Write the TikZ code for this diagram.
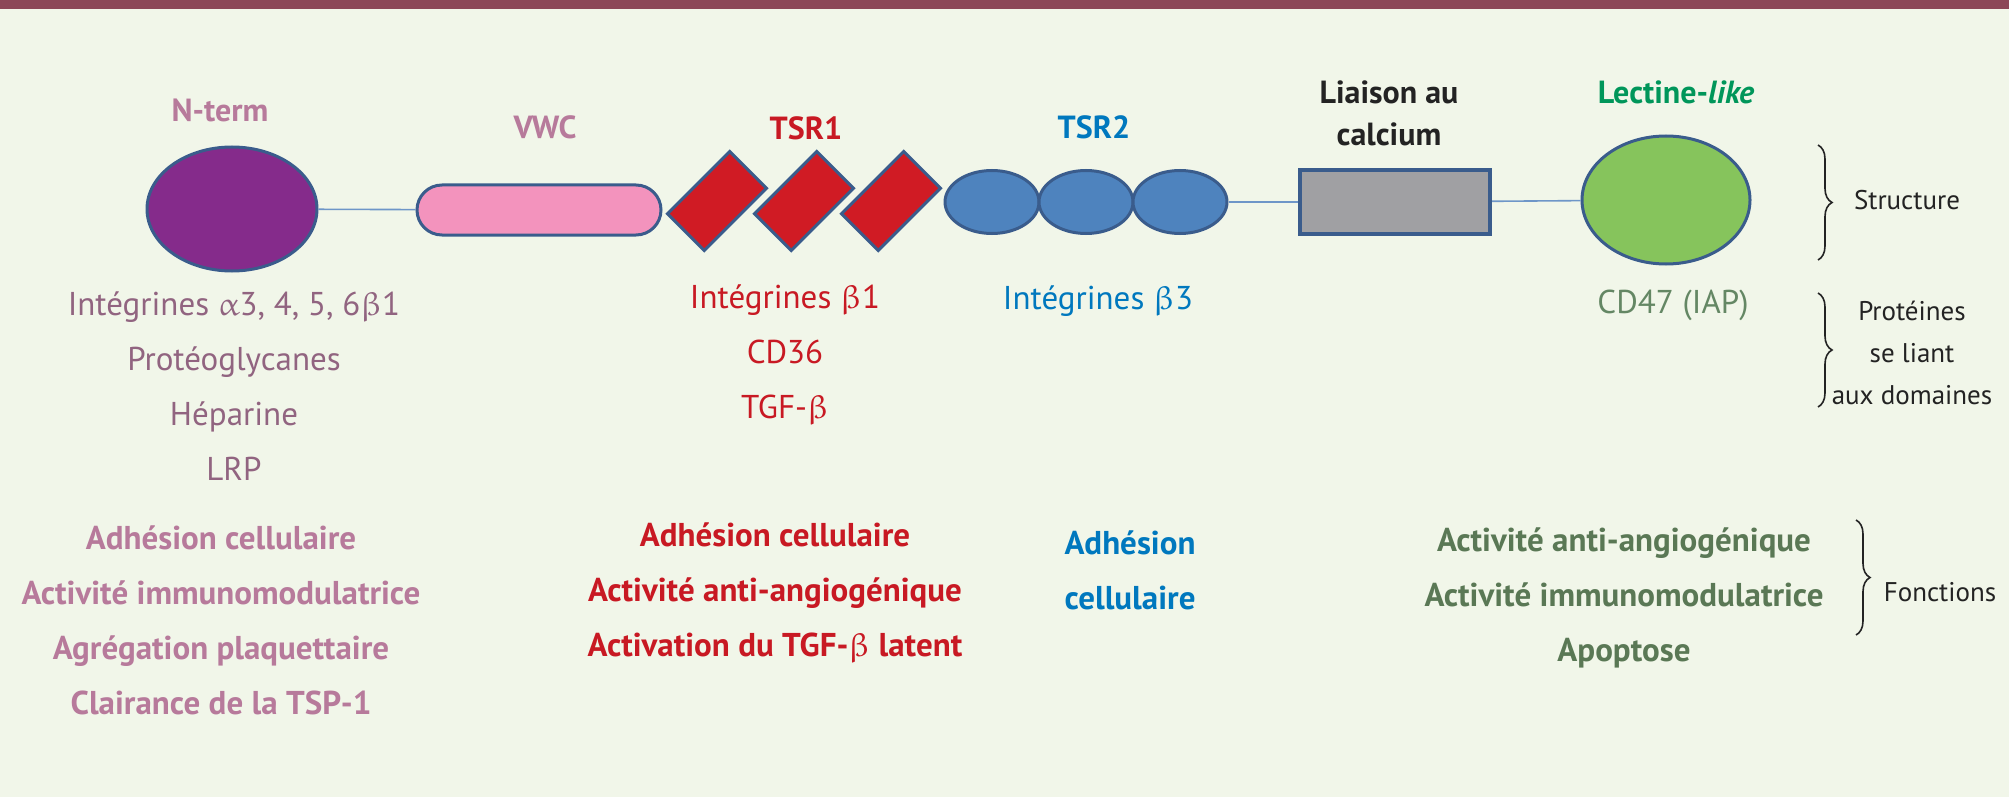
\documentclass[tikz,border=0pt]{standalone}
\usepackage{fontspec}
\setmainfont{PT Sans}
\usepackage{upgreek}
\usepackage{tikz}
\usetikzlibrary{shapes.geometric}
\usetikzlibrary{decorations.pathreplacing}
\definecolor{paper}{RGB}{241, 246, 233}
\definecolor{plum}{RGB}{140, 72, 88}
\definecolor{edgeblue}{RGB}{58, 92, 140}
\definecolor{linkblue}{RGB}{110, 150, 200}
\definecolor{ntermfill}{RGB}{133, 43, 139}
\definecolor{vwcfill}{RGB}{243, 147, 189}
\definecolor{tsronefill}{RGB}{208, 27, 36}
\definecolor{tsrtwofill}{RGB}{78, 131, 190}
\definecolor{calcfill}{RGB}{160, 160, 163}
\definecolor{lectfill}{RGB}{134, 196, 92}
\definecolor{mauve}{RGB}{183, 122, 155}
\definecolor{mauvegray}{RGB}{145, 100, 128}
\definecolor{tsrred}{RGB}{200, 25, 35}
\definecolor{tsrblue}{RGB}{0, 120, 190}
\definecolor{lectgreen}{RGB}{0, 150, 90}
\definecolor{sage}{RGB}{90, 120, 85}
\definecolor{sagelight}{RGB}{100, 135, 100}
\definecolor{darktext}{RGB}{35, 35, 35}
\tikzset{
  module/.style={draw=edgeblue, line width=1.5pt, inner sep=0pt},
  link/.style={draw=linkblue, line width=0.8pt},
  title/.style={font=\bfseries\fontsize{16}{21}\selectfont, align=center},
  ligand/.style={font=\fontsize{16.5}{27.5}\selectfont, align=center},
  role/.style={font=\bfseries\fontsize{16.5}{27.5}\selectfont, align=center},
  side/.style={font=\fontsize{13.5}{21}\selectfont, align=center, text=darktext},
  bracket/.style={decorate, decoration={brace, amplitude=7pt}, line width=0.8pt, draw=darktext}
}

\begin{document}
\begin{tikzpicture}[x=0.5pt, y=-0.5pt]
  \fill[paper] (0,0) rectangle (2009,797);
  \fill[plum]  (0,0) rectangle (2009,9);
  \useasboundingbox (0,0) rectangle (2009,797);

  \node[module, ellipse,   fill=ntermfill,  minimum width=85pt,   minimum height=62pt]   (nterm) at ( 232,209) {};
  \node[module, rectangle, fill=vwcfill,    minimum width=122pt,  minimum height=25pt, rounded corners=12.5pt] (vwc) at (539,210) {};
  \node[module, rectangle, fill=tsronefill, minimum width=44pt,   minimum height=26pt, rotate=45] (tsr1a) at ( 717,201) {};
  \node[module, rectangle, fill=tsronefill, minimum width=44pt,   minimum height=26pt, rotate=45] (tsr1b) at ( 804,201) {};
  \node[module, rectangle, fill=tsronefill, minimum width=44pt,   minimum height=26pt, rotate=45] (tsr1c) at ( 891,201) {};
  \node[module, ellipse,   fill=tsrtwofill, minimum width=47pt,   minimum height=31.5pt] (tsr2a) at ( 992,202) {};
  \node[module, ellipse,   fill=tsrtwofill, minimum width=47pt,   minimum height=31.5pt] (tsr2b) at (1086,202) {};
  \node[module, ellipse,   fill=tsrtwofill, minimum width=47pt,   minimum height=31.5pt] (tsr2c) at (1180,202) {};
  \node[module, rectangle, fill=calcfill,   minimum width=95pt,   minimum height=31.5pt, line width=2pt] (calc) at (1395,202) {};
  \node[module, ellipse,   fill=lectfill,   minimum width=84pt,   minimum height=64pt]   (lect) at (1666,200) {};

  \draw[link] (nterm) -- (vwc);
  \draw[link] (tsr2c) -- (calc);
  \draw[link] (calc) -- (lect);

  \node[title, text=mauve]     (ntermlabel) at ( 220,110) {N-term};
  \node[title, text=mauve]     (vwclabel)   at ( 545,127) {VWC};
  \node[title, text=tsrred]    (tsr1label)  at ( 806,128) {TSR1};
  \node[title, text=tsrblue]   (tsr2label)  at (1094,127) {TSR2};
  \node[title, text=darktext]  (calclabel)  at (1389,113) {Liaison au\\calcium};
  \node[title, text=lectgreen] (lectlabel)  at (1676, 92) {Lectine-\textit{like}};

  \node[ligand, text=mauvegray] (ntermlig) at ( 234,386) {Intégrines $\upalpha$3, 4, 5, 6$\upbeta$1\\Protéoglycanes\\Héparine\\LRP};
  \node[ligand, text=tsrred]    (tsr1lig)  at ( 785,355) {Intégrines $\upbeta$1\\CD36\\TGF-$\upbeta$};
  \node[ligand, text=tsrblue]   (tsr2lig)  at (1098,301) {Intégrines $\upbeta$3};
  \node[ligand, text=sagelight] (lectlig)  at (1673,305) {CD47 (IAP)};

  \node[role, text=mauve]  (ntermrole) at ( 221,620) {Adhésion cellulaire\\Activité immunomodulatrice\\Agrégation plaquettaire\\Clairance de la TSP-1};
  \node[role, text=tsrred] (tsr1role)  at ( 775,593) {Adhésion cellulaire\\Activité anti-angiogénique\\Activation du TGF-$\upbeta$ latent};
  \node[role, text=tsrblue] (tsr2role) at (1130,570) {Adhésion\\cellulaire};
  \node[role, text=sage]   (lectrole)  at (1624,598) {Activité anti-angiogénique\\Activité immunomodulatrice\\Apoptose};

  \draw[bracket] (1818,145) -- (1818,260);
  \draw[bracket] (1818,293) -- (1818,407);
  \draw[bracket] (1856,520) -- (1856,635);
  \node[side] (structure) at (1907,200) {Structure};
  \node[side] (binding)   at (1912,353) {Protéines\\se liant\\aux domaines};
  \node[side] (roles)     at (1940,592) {Fonctions};
\end{tikzpicture}
\end{document}
